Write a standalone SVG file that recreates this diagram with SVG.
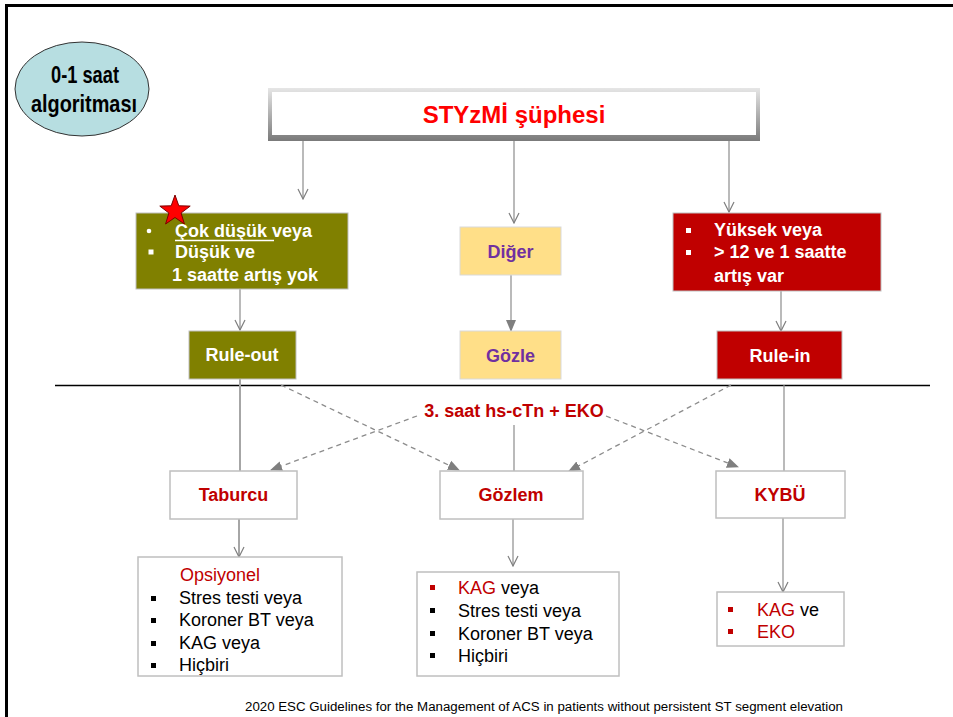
<svg xmlns="http://www.w3.org/2000/svg" width="953" height="717" viewBox="0 0 953 717">
<style>
  text { font-family: "Liberation Sans", Arial, sans-serif; }
  .b { font-weight: bold; font-size: 18px; }
  .n { font-size: 18px; fill: #000; }
  .w { fill: #fff; }
  .p { fill: #7030a0; }
  .r { fill: #c00000; }
  .wbox { fill: #fff; stroke: #bfbfbf; stroke-width: 1.5; }
  .ln { fill: none; stroke: #8c8c8c; stroke-width: 1.2; }
  .lnw { fill: none; stroke: #a6a6a6; stroke-width: 2; }
  .da { fill: none; stroke: #8c8c8c; stroke-width: 1.3; stroke-dasharray: 5 4; }
</style>
<defs>
  <marker id="open" viewBox="0 0 12 12" refX="11" refY="6" markerWidth="12" markerHeight="12" markerUnits="userSpaceOnUse" orient="auto">
    <path d="M1,1 L11,6 L1,11" fill="none" stroke="#7f7f7f" stroke-width="1.2"/>
  </marker>
  <marker id="fill" viewBox="0 0 12 12" refX="11" refY="6" markerWidth="12" markerHeight="12" markerUnits="userSpaceOnUse" orient="auto">
    <path d="M0,1 L12,6 L0,11 Z" fill="#7f7f7f"/>
  </marker>
  <linearGradient id="bevel" x1="0" y1="0" x2="0" y2="1">
    <stop offset="0" stop-color="#e6e6e6"/>
    <stop offset="1" stop-color="#7a7a7a"/>
  </linearGradient>
</defs>

<rect width="953" height="717" fill="#fff"/>
<path d="M6.5,717 V5.5 H953" fill="none" stroke="#000" stroke-width="3"/>

<g id="connectors">
  <line x1="303" y1="140" x2="303" y2="199" class="ln" marker-end="url(#open)"/>
  <line x1="514" y1="140" x2="514" y2="223" class="ln" marker-end="url(#open)"/>
  <line x1="729" y1="140" x2="729" y2="212" class="ln" marker-end="url(#open)"/>
  <line x1="240" y1="289" x2="240" y2="330" class="ln" marker-end="url(#open)"/>
  <line x1="511" y1="275" x2="511" y2="331" class="ln" marker-end="url(#fill)"/>
  <line x1="781" y1="291" x2="781" y2="331" class="ln" marker-end="url(#open)"/>
  <line x1="55" y1="385.5" x2="930" y2="385.5" stroke="#000" stroke-width="1.5"/>
  <line x1="240" y1="379" x2="240" y2="471" class="lnw"/>
  <line x1="514" y1="425" x2="514" y2="471" class="ln"/>
  <line x1="784" y1="385" x2="784" y2="471" class="ln"/>
  <line x1="281" y1="385" x2="459" y2="470" class="da" marker-end="url(#fill)"/>
  <line x1="417" y1="416" x2="271" y2="470" class="da" marker-end="url(#fill)"/>
  <line x1="731" y1="385" x2="569" y2="471" class="da" marker-end="url(#fill)"/>
  <line x1="606" y1="416" x2="738" y2="467" class="da" marker-end="url(#fill)"/>
  <line x1="239" y1="519" x2="239" y2="557" class="lnw" marker-end="url(#open)"/>
  <line x1="513" y1="519" x2="513" y2="566" class="ln" marker-end="url(#open)"/>
  <line x1="783" y1="518" x2="783" y2="592" class="ln" marker-end="url(#open)"/>
</g>

<g id="title-ellipse">
  <ellipse cx="82" cy="89" rx="67" ry="47" fill="#b7dee1" stroke="#333" stroke-width="1"/>
  <text x="85" y="83" text-anchor="middle" font-weight="bold" font-size="24" fill="#000" textLength="68" lengthAdjust="spacingAndGlyphs">0-1 saat</text>
  <text x="84" y="112" text-anchor="middle" font-weight="bold" font-size="24" fill="#000" textLength="106" lengthAdjust="spacingAndGlyphs">algoritması</text>
</g>

<g id="node-styzmi">
  <rect x="268" y="88" width="492" height="53" fill="url(#bevel)"/>
  <rect x="272" y="92" width="484" height="43" fill="#fff"/>
  <text x="514" y="123" text-anchor="middle" font-weight="bold" font-size="24" fill="#ff0000">STYzMİ şüphesi</text>
</g>

<g id="node-low">
  <rect x="136" y="213" width="212" height="76" fill="#808000" stroke="#bfbfbf" stroke-width="1"/>
  <circle cx="149" cy="231" r="2.3" fill="#fff"/>
  <text x="175" y="237" class="b w">Çok düşük veya</text>
  <line x1="175" y1="240.5" x2="274" y2="240.5" stroke="#fff" stroke-width="1.5"/>
  <rect x="148.5" y="249.5" width="5" height="5" fill="#fff"/>
  <text x="175" y="258" class="b w">Düşük ve</text>
  <text x="172" y="281" class="b w">1 saatte artış yok</text>
  <polygon points="175,195 178.8,205.8 190.2,206.1 181.1,213 184.4,224 175,217.5 165.6,224 168.9,213 159.8,206.1 171.2,205.8" fill="#ff0000" stroke="#7a0000" stroke-width="1"/>
</g>

<g id="node-diger">
  <rect x="460" y="227" width="101" height="48" fill="#ffdf88" stroke="#d9d9d9" stroke-width="1"/>
  <text x="510.5" y="258" text-anchor="middle" class="b p">Diğer</text>
</g>

<g id="node-high">
  <rect x="673" y="213" width="208" height="78" fill="#c00000" stroke="#bfbfbf" stroke-width="1"/>
  <rect x="686" y="228" width="5" height="5" fill="#fff"/>
  <text x="714" y="236" class="b w">Yüksek veya</text>
  <rect x="686" y="250" width="5" height="5" fill="#fff"/>
  <text x="714" y="258" class="b w">&gt; 12 ve 1 saatte</text>
  <text x="714" y="282" class="b w">artış var</text>
</g>

<g id="node-ruleout">
  <rect x="189" y="331" width="107" height="48" fill="#808000" stroke="#bfbfbf" stroke-width="1"/>
  <text x="242" y="361" text-anchor="middle" class="b w">Rule-out</text>
</g>

<g id="node-gozle">
  <rect x="460" y="331" width="101" height="48" fill="#ffdf88" stroke="#d9d9d9" stroke-width="1"/>
  <text x="510.5" y="362" text-anchor="middle" class="b p">Gözle</text>
</g>

<g id="node-rulein">
  <rect x="717" y="331" width="125" height="48" fill="#c00000" stroke="#bfbfbf" stroke-width="1"/>
  <text x="780" y="362" text-anchor="middle" class="b w">Rule-in</text>
</g>

<g id="label-3saat">
  <text x="514" y="417" text-anchor="middle" class="b r">3. saat hs-cTn + EKO</text>
</g>

<g id="node-taburcu">
  <rect x="170" y="471" width="127" height="48" class="wbox"/>
  <text x="233.5" y="501" text-anchor="middle" class="b r">Taburcu</text>
</g>

<g id="node-gozlem">
  <rect x="440" y="471" width="143" height="48" class="wbox"/>
  <text x="511" y="501" text-anchor="middle" class="b r">Gözlem</text>
</g>

<g id="node-kybu">
  <rect x="716" y="471" width="129" height="47" class="wbox"/>
  <text x="780" y="501" text-anchor="middle" class="b r">KYBÜ</text>
</g>

<g id="node-opsiyonel">
  <rect x="138" y="557" width="204" height="119" class="wbox"/>
  <text x="180" y="581" font-size="18" class="r">Opsiyonel</text>
  <rect x="151" y="596" width="5" height="5" fill="#000"/>
  <text x="179" y="604" class="n">Stres testi veya</text>
  <rect x="151" y="618" width="5" height="5" fill="#000"/>
  <text x="179" y="626" class="n">Koroner  BT veya</text>
  <rect x="151" y="641" width="5" height="5" fill="#000"/>
  <text x="179" y="649" class="n">KAG veya</text>
  <rect x="151" y="663" width="5" height="5" fill="#000"/>
  <text x="179" y="671" class="n">Hiçbiri</text>
</g>

<g id="node-gozlem-options">
  <rect x="417" y="572" width="202" height="104" class="wbox"/>
  <rect x="430" y="585" width="5" height="5" fill="#c00000"/>
  <text x="458" y="594" class="n"><tspan fill="#c00000">KAG</tspan> veya</text>
  <rect x="430" y="608" width="5" height="5" fill="#000"/>
  <text x="458" y="617" class="n">Stres testi veya</text>
  <rect x="430" y="631" width="5" height="5" fill="#000"/>
  <text x="458" y="640" class="n">Koroner  BT veya</text>
  <rect x="430" y="653" width="5" height="5" fill="#000"/>
  <text x="458" y="662" class="n">Hiçbiri</text>
</g>

<g id="node-kybu-options">
  <rect x="717" y="592" width="127" height="54" class="wbox"/>
  <rect x="728" y="607" width="5" height="5" fill="#c00000"/>
  <text x="757" y="616" class="n"><tspan fill="#c00000">KAG</tspan> ve</text>
  <rect x="728" y="629" width="5" height="5" fill="#c00000"/>
  <text x="757" y="638" class="n" style="fill:#c00000">EKO</text>
</g>

<g id="footer">
  <text x="245" y="711" font-size="12" fill="#000" textLength="598" lengthAdjust="spacingAndGlyphs">2020 ESC Guidelines for the Management of ACS in patients without persistent ST segment elevation</text>
</g>
</svg>
